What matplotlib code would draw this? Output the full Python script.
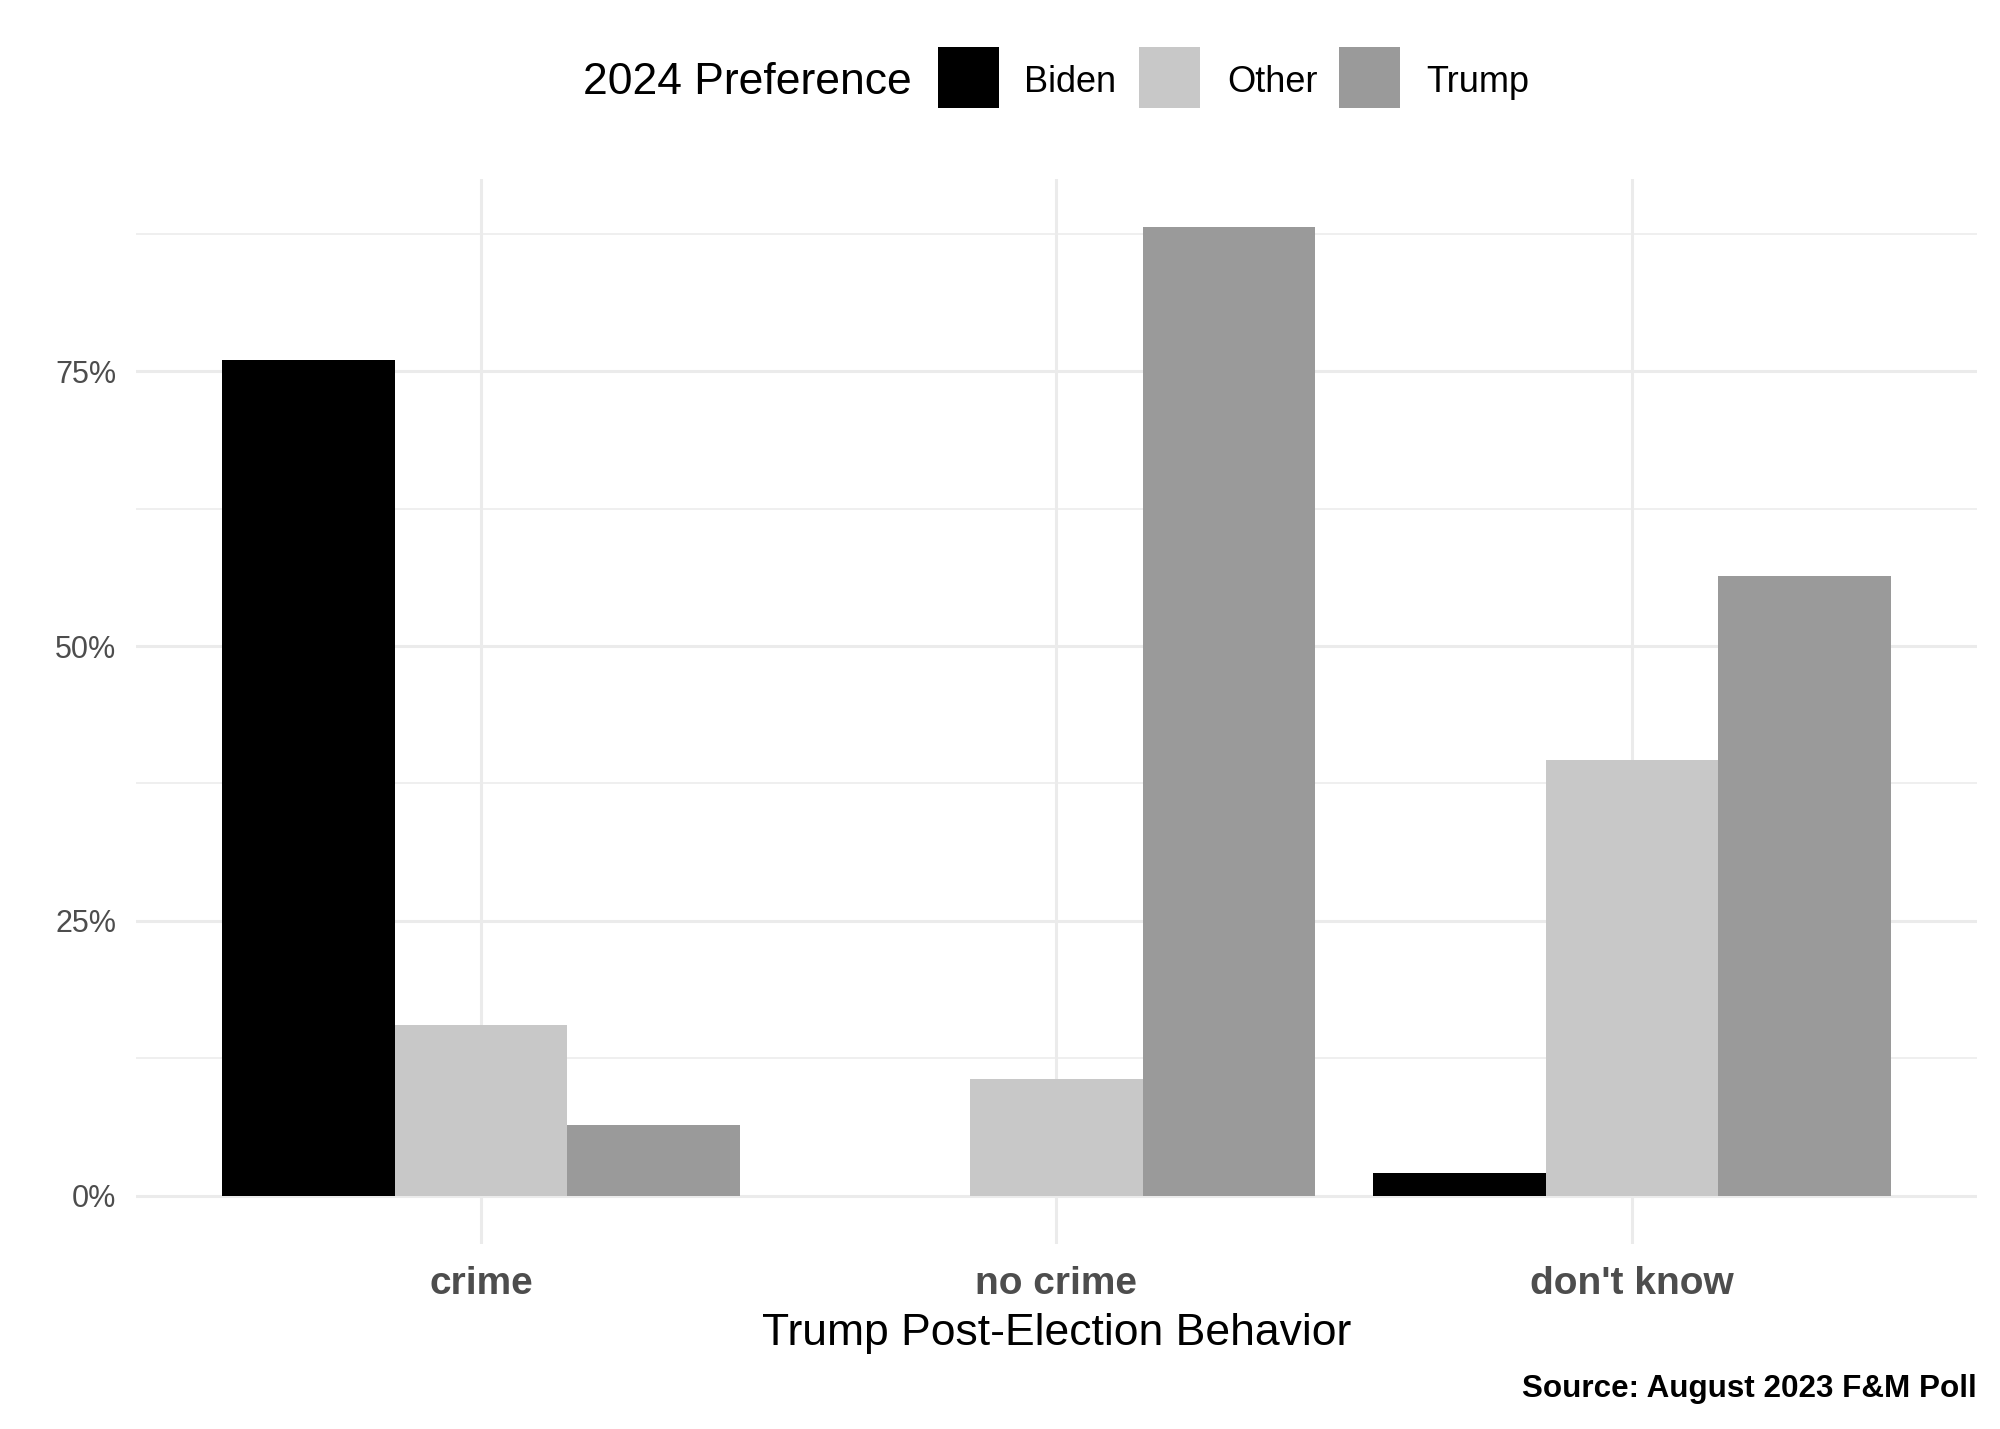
import matplotlib
matplotlib.use("Agg")
import matplotlib.pyplot as plt
from matplotlib.patches import Rectangle
import numpy as np

categories = ["crime", "no crime", "don't know"]
series = ["Biden", "Other", "Trump"]
biden = [76.0, 0.0, 2.1]
other = [15.5, 10.6, 39.6]
trump = [6.4, 88.1, 56.4]
colors = ["#000000", "#C8C8C8", "#9A9A9A"]
yticks = [0, 25, 50, 75]
ytick_labels = ["0%", "25%", "50%", "75%"]

plt.rcParams['font.family'] = ['Liberation Sans', 'DejaVu Sans']

W, H = 2000, 1429
fig = plt.figure(figsize=(10, H / 200), dpi=200)
ax = fig.add_axes([136 / W, 1 - 1244 / H, (1977 - 136) / W, (1244 - 179) / H])

x = np.arange(1, len(categories) + 1)
bw = 0.3
for i, (vals, c) in enumerate(zip([biden, other, trump], colors)):
    ax.bar(x + (i - 1) * bw, vals, width=bw, color=c, zorder=3, linewidth=0)

ax.set_xlim(0.4, 3.6)
ymax = max(max(biden), max(other), max(trump))
ax.set_ylim(-0.05 * ymax, 1.05 * ymax)

ax.set_yticks(yticks)
ax.set_yticklabels(ytick_labels)
ax.set_yticks([12.5, 37.5, 62.5, 87.5], minor=True)
ax.set_xticks(x)
ax.set_xticklabels(categories)

for s in ax.spines.values():
    s.set_visible(False)
ax.tick_params(axis='both', which='both', length=0)
ax.tick_params(axis='y', labelsize=11, labelcolor="#4D4D4D", pad=7)
ax.tick_params(axis='x', labelsize=14, labelcolor="#4D4D4D", pad=8)
for lab in ax.get_xticklabels():
    lab.set_fontweight('bold')

ax.grid(True, which='major', color="#EBEBEB", linewidth=1.1, zorder=0)
ax.grid(True, which='minor', axis='y', color="#EBEBEB", linewidth=0.55, zorder=0)
ax.set_axisbelow(True)

ax.set_xlabel("Trump Post-Election Behavior", fontsize=16, labelpad=4, color="black")

# Legend (manual, horizontal with title on the left)
key_x = [937.5, 1139, 1339]
lab_x = [1024, 1227, 1426]
ky0, ky1 = 47, 108
for kx, lx, name, c in zip(key_x, lab_x, series, colors):
    fig.add_artist(Rectangle((kx / W, 1 - ky1 / H), 61 / W, (ky1 - ky0) / H,
                             transform=fig.transFigure, facecolor=c, edgecolor='none'))
    fig.text(lx / W, 1 - 82 / H, name, fontsize=13, va='center', ha='left')
fig.text(912 / W, 1 - 82 / H, "2024 Preference", fontsize=16, va='center', ha='right')

fig.text(1977 / W, 1 - 1389 / H, "Source: August 2023 F&M Poll", fontsize=11.3,
         fontweight='bold', ha='right', va='center')

fig.savefig("out.png", dpi=200, facecolor='white')
